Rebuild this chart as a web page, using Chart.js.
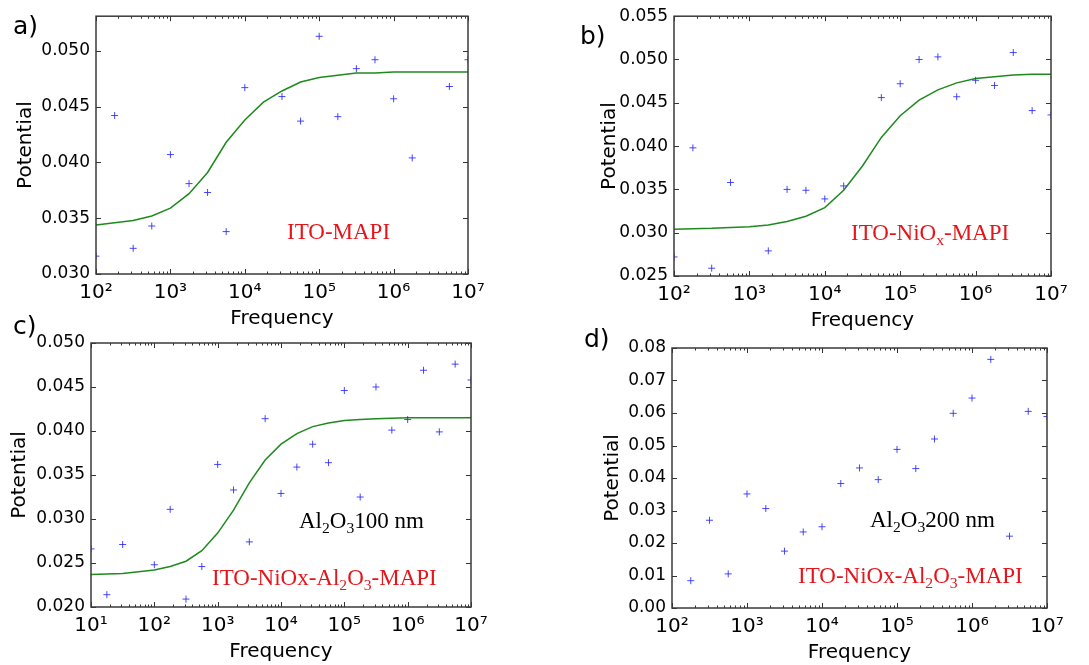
<!DOCTYPE html>
<html>
<head>
<meta charset="utf-8">
<script src="https://cdn.jsdelivr.net/npm/chart.js@4.4.0/dist/chart.umd.min.js"></script>
<style>
  body { margin: 0; background: #fff; width: 1089px; height: 665px; position: relative; overflow: hidden; }
  canvas { position: absolute; }
</style>
</head>
<body>
<canvas id="chartA"></canvas>
<canvas id="chartB"></canvas>
<canvas id="chartC"></canvas>
<canvas id="chartD"></canvas>
<script>
// ---- data ----
// a) ITO-MAPI
const freqA = [1e2, 1.78e2, 3.16e2, 5.62e2, 1e3, 1.78e3, 3.16e3, 5.62e3, 1e4, 3.16e4, 5.62e4, 1e5, 1.78e5, 3.16e5, 5.62e5, 1e6, 1.78e6, 5.62e6, 1e7];
const potA = [0.0316, 0.0442, 0.0323, 0.0343, 0.0407, 0.0381, 0.0373, 0.0338, 0.0467, 0.0459, 0.0437, 0.0513, 0.0441, 0.0484, 0.0492, 0.0457, 0.0404, 0.0468, 0.0492];
const fitFreqA = [1e2, 1.78e2, 3.16e2, 5.62e2, 1e3, 1.78e3, 3.16e3, 5.62e3, 1e4, 1.78e4, 3.16e4, 5.62e4, 1e5, 1.78e5, 3.16e5, 5.62e5, 1e6, 1.78e6, 3.16e6, 5.62e6, 1e7];
const fitA = [0.0344, 0.0346, 0.0348, 0.0352, 0.0359, 0.0372, 0.0391, 0.0418, 0.0438, 0.0454, 0.0464, 0.0472, 0.0476, 0.0478, 0.0480, 0.0480, 0.0481, 0.0481, 0.0481, 0.0481, 0.0481];

// b) ITO-NiOx-MAPI
const freqB = [1e2, 1.78e2, 3.16e2, 5.62e2, 1.78e3, 3.16e3, 5.62e3, 1e4, 1.78e4, 5.62e4, 1e5, 1.78e5, 3.16e5, 5.62e5, 1e6, 1.78e6, 3.16e6, 5.62e6, 1e7];
const potB = [0.0272, 0.0398, 0.0259, 0.0358, 0.0279, 0.0350, 0.0349, 0.0339, 0.0354, 0.0456, 0.0472, 0.0500, 0.0503, 0.0457, 0.0476, 0.0470, 0.0508, 0.0441, 0.0436];
const fitFreqB = [1e2, 3.16e2, 1e3, 1.78e3, 3.16e3, 5.62e3, 1e4, 1.78e4, 3.16e4, 5.62e4, 1e5, 1.78e5, 3.16e5, 5.62e5, 1e6, 1.78e6, 3.16e6, 5.62e6, 1e7];
const fitB = [0.0304, 0.0305, 0.0307, 0.0309, 0.0313, 0.0319, 0.0329, 0.0349, 0.0377, 0.0410, 0.0435, 0.0453, 0.0465, 0.0473, 0.0478, 0.0480, 0.0482, 0.0483, 0.0483];

// c) ITO-NiOx-Al2O3-MAPI, 100 nm
const freqC = [1e1, 1.78e1, 3.16e1, 1e2, 1.78e2, 3.16e2, 5.62e2, 1e3, 1.78e3, 3.16e3, 5.62e3, 1e4, 1.78e4, 3.16e4, 5.62e4, 1e5, 1.78e5, 3.16e5, 5.62e5, 1e6, 1.78e6, 3.16e6, 5.62e6, 1e7];
const potC = [0.0266, 0.0214, 0.0271, 0.0248, 0.0311, 0.0209, 0.0246, 0.0362, 0.0333, 0.0274, 0.0414, 0.0329, 0.0359, 0.0385, 0.0364, 0.0446, 0.0325, 0.0450, 0.0401, 0.0413, 0.0469, 0.0399, 0.0476, 0.0458];
const fitFreqC = [1e1, 3.16e1, 1e2, 1.78e2, 3.16e2, 5.62e2, 1e3, 1.78e3, 3.16e3, 5.62e3, 1e4, 1.78e4, 3.16e4, 5.62e4, 1e5, 1.78e5, 3.16e5, 1e6, 1e7];
const fitC = [0.0237, 0.0238, 0.0242, 0.0246, 0.0252, 0.0264, 0.0284, 0.0310, 0.0341, 0.0367, 0.0385, 0.0397, 0.0405, 0.0409, 0.0412, 0.0413, 0.0414, 0.0415, 0.0415];

// d) ITO-NiOx-Al2O3-MAPI, 200 nm
const freqD = [1.78e2, 3.16e2, 5.62e2, 1e3, 1.78e3, 3.16e3, 5.62e3, 1e4, 1.78e4, 3.16e4, 5.62e4, 1e5, 1.78e5, 3.16e5, 5.62e5, 1e6, 1.78e6, 3.16e6, 5.62e6, 1e7];
const potD = [0.0084, 0.0270, 0.0105, 0.0351, 0.0306, 0.0175, 0.0234, 0.0250, 0.0383, 0.0431, 0.0395, 0.0488, 0.0429, 0.0520, 0.0599, 0.0646, 0.0765, 0.0221, 0.0605, 0.0589];

// tick values
const xTicksAB = [1e2, 1e3, 1e4, 1e5, 1e6, 1e7];
const xTicksC = [1e1, 1e2, 1e3, 1e4, 1e5, 1e6, 1e7];
const yTicksA = [0.030, 0.035, 0.040, 0.045, 0.050];
const yTicksB = [0.025, 0.030, 0.035, 0.040, 0.045, 0.050, 0.055];
const yTicksC = [0.020, 0.025, 0.030, 0.035, 0.040, 0.045, 0.050];
const yTicksD = [0.00, 0.01, 0.02, 0.03, 0.04, 0.05, 0.06, 0.07, 0.08];

const SUP = { 1: '\u00B9', 2: '\u00B2', 3: '\u00B3', 4: '\u2074', 5: '\u2075', 6: '\u2076', 7: '\u2077' };
const RED = '#e5161b';

function drawRich(ctx, x, y, parts, size, color) {
  let cx = x;
  ctx.fillStyle = color;
  ctx.textBaseline = 'alphabetic';
  ctx.textAlign = 'left';
  parts.forEach(p => {
    const sub = Array.isArray(p);
    const text = sub ? p[0] : p;
    const fs = sub ? size * 0.68 : size;
    ctx.font = fs + 'px "Liberation Serif"';
    ctx.fillText(text, cx, sub ? y + size * 0.22 : y);
    cx += ctx.measureText(text).width;
  });
}

const frameTicks = {
  id: 'frameTicks',
  afterDatasetsDraw(chart) {
    const { ctx, chartArea: a, scales: { x, y } } = chart;
    ctx.save();
    ctx.strokeStyle = '#333';
    ctx.lineWidth = 1;
    ctx.beginPath();
    const lo = Math.floor(Math.log10(x.min)), hi = Math.ceil(Math.log10(x.max));
    for (let e = lo; e <= hi; e++) {
      for (let k = 1; k < 10; k++) {
        const v = k * Math.pow(10, e);
        if (v < x.min * 0.999 || v > x.max * 1.001) continue;
        const px = Math.round(x.getPixelForValue(v)) + 0.5;
        const len = k === 1 ? 5 : 2.5;
        ctx.moveTo(px, a.bottom); ctx.lineTo(px, a.bottom - len);
        ctx.moveTo(px, a.top); ctx.lineTo(px, a.top + len);
      }
    }
    y.ticks.forEach(t => {
      const py = Math.round(y.getPixelForValue(t.value)) + 0.5;
      ctx.moveTo(a.left, py); ctx.lineTo(a.left + 5, py);
      ctx.moveTo(a.right, py); ctx.lineTo(a.right - 5, py);
    });
    ctx.stroke();
    ctx.lineWidth = 1.5;
    ctx.strokeStyle = '#3a3a3a';
    ctx.strokeRect(a.left, a.top, a.right - a.left, a.bottom - a.top);
    ctx.restore();
  },
  afterDraw(chart, args, opts) {
    const ctx = chart.ctx;
    ctx.save();
    ctx.font = '25px "DejaVu Sans"';
    ctx.fillStyle = '#000';
    ctx.textBaseline = 'alphabetic';
    ctx.fillText(opts.letter[0], opts.letter[1] - opts.box.left, opts.letter[2] - opts.box.top);
    (opts.notes || []).forEach(n => {
      drawRich(ctx, n.x - opts.box.left, n.y - opts.box.top, n.parts, 23, n.color);
    });
    ctx.restore();
  }
};

function makePanel(id, box, area, xr, xTicks, yr, yTicks, digits, titlePad, datasets, notes, letter) {
  const cv = document.getElementById(id);
  cv.width = box.w; cv.height = box.h;
  cv.style.left = box.left + 'px'; cv.style.top = box.top + 'px';
  cv.style.width = box.w + 'px'; cv.style.height = box.h + 'px';
  const yW = area.left - box.left;
  const xH = box.top + box.h - area.bottom;
  return new Chart(cv, {
    type: 'scatter',
    data: { datasets },
    plugins: [frameTicks],
    options: {
      responsive: false,
      animation: false,
      devicePixelRatio: 1,
      layout: { padding: { left: 0, top: area.top - box.top, right: box.left + box.w - area.right, bottom: 0 } },
      plugins: {
        legend: { display: false },
        tooltip: { enabled: false },
        frameTicks: { box, notes, letter }
      },
      scales: {
        x: {
          type: 'logarithmic',
          min: xr[0], max: xr[1],
          afterBuildTicks: s => { s.ticks = xTicks.map(v => ({ value: v })); },
          afterFit: s => { s.height = xH; },
          grid: { display: false, drawTicks: false },
          border: { display: false },
          ticks: {
            autoSkip: false, maxRotation: 0, padding: 7, color: '#000',
            font: { family: 'DejaVu Sans', size: 20 },
            callback: v => '10' + SUP[Math.round(Math.log10(v))]
          },
          title: { display: true, text: 'Frequency', color: '#000', padding: 0, font: { family: 'DejaVu Sans', size: 20 } }
        },
        y: {
          type: 'linear',
          min: yr[0], max: yr[1],
          afterBuildTicks: s => { s.ticks = yTicks.map(v => ({ value: v })); },
          afterFit: s => { s.width = yW; },
          grid: { display: false, drawTicks: false },
          border: { display: false },
          ticks: {
            padding: 6, color: '#000',
            font: { family: 'DejaVu Sans', size: 17 },
            callback: v => v.toFixed(digits)
          },
          title: { display: true, text: 'Potential', color: '#000', padding: { top: titlePad, bottom: 0 }, font: { family: 'DejaVu Sans', size: 20 } }
        }
      }
    }
  });
}

function pts(xs, ys) { return xs.map((x, i) => ({ x, y: ys[i] })); }
function scatterSet(xs, ys) {
  return {
    data: pts(xs, ys), pointStyle: 'cross', pointRadius: 3.5, pointBorderWidth: 1,
    pointBorderColor: 'rgba(40,40,255,0.85)', pointBackgroundColor: 'rgba(40,40,255,0.85)', clip: 0
  };
}
function fitSet(xs, ys) {
  return {
    data: pts(xs, ys), showLine: true, pointRadius: 0, borderColor: '#1e8a1e', borderWidth: 1.5, fill: false, clip: 0
  };
}

makePanel('chartA', { left: 0, top: 0, w: 545, h: 331 }, { left: 96, top: 15, right: 468, bottom: 274 },
  [1e2, 1e7], xTicksAB, [0.030, 0.0531], yTicksA, 3, 14,
  [scatterSet(freqA, potA), fitSet(fitFreqA, fitA)],
  [{ x: 287, y: 239, color: RED, parts: ['ITO-MAPI'] }],
  ['a)', 13, 34]);

makePanel('chartB', { left: 545, top: 0, w: 544, h: 333 }, { left: 674, top: 14, right: 1051, bottom: 276 },
  [1e2, 1e7], xTicksAB, [0.025, 0.055], yTicksB, 3, 53,
  [scatterSet(freqB, potB), fitSet(fitFreqB, fitB)],
  [{ x: 851, y: 240, color: RED, parts: ['ITO-NiO', ['x'], '-MAPI'] }],
  ['b)', 580, 44]);

makePanel('chartC', { left: 0, top: 300, w: 545, h: 364 }, { left: 91, top: 343, right: 471, bottom: 607 },
  [1e1, 1e7], xTicksC, [0.020, 0.050], yTicksC, 3, 8,
  [scatterSet(freqC, potC), fitSet(fitFreqC, fitC)],
  [{ x: 299, y: 528, color: '#000', parts: ['Al', ['2'], 'O', ['3'], '100 nm'] },
   { x: 212, y: 585, color: RED, parts: ['ITO-NiOx-Al', ['2'], 'O', ['3'], '-MAPI'] }],
  ['c)', 13, 334]);

makePanel('chartD', { left: 545, top: 300, w: 544, h: 365 }, { left: 672, top: 348, right: 1047, bottom: 608 },
  [1e2, 1e7], xTicksAB, [0.00, 0.08], yTicksD, 2, 56,
  [scatterSet(freqD, potD)],
  [{ x: 870, y: 527, color: '#000', parts: ['Al', ['2'], 'O', ['3'], '200 nm'] },
   { x: 798, y: 583, color: RED, parts: ['ITO-NiOx-Al', ['2'], 'O', ['3'], '-MAPI'] }],
  ['d)', 584, 347]);
</script>
</body>
</html>
